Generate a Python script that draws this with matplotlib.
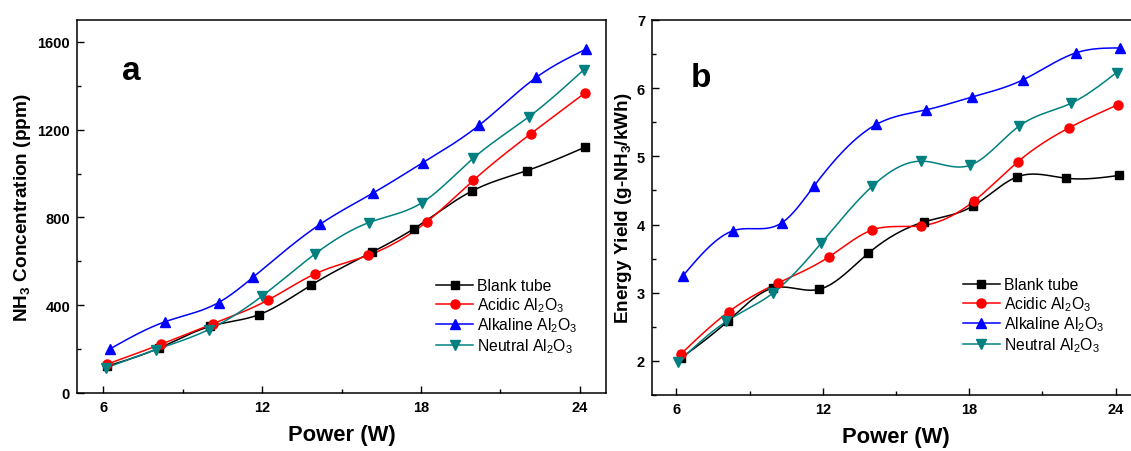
import numpy as np
import matplotlib
matplotlib.use("Agg")
import matplotlib.pyplot as plt
from matplotlib.ticker import MultipleLocator

plt.rcParams['font.family'] = ['Liberation Sans', 'DejaVu Sans']
plt.rcParams['mathtext.fontset'] = 'custom'
plt.rcParams['mathtext.rm'] = 'Liberation Sans'
plt.rcParams['mathtext.bf'] = 'Liberation Sans:bold'
plt.rcParams['mathtext.it'] = 'Liberation Sans:italic'

series_names = ['Blank tube', r'Acidic Al$_2$O$_3$', r'Alkaline Al$_2$O$_3$', r'Neutral Al$_2$O$_3$']

# ---- Panel a: NH3 concentration (ppm) ----
power_a_blank = [6.13, 8.11, 10.04, 11.88, 13.84, 16.17, 17.74, 19.94, 22.0, 24.2]
nh3_blank = [122, 205, 304, 357, 491, 643, 749, 921, 1013, 1120]
power_a_acidic = [6.13, 8.17, 10.13, 12.24, 14.0, 16.02, 18.22, 19.99, 22.15, 24.2]
nh3_acidic = [131, 222, 315, 425, 543, 628, 780, 970, 1181, 1367]
power_a_alkaline = [6.26, 8.31, 10.35, 11.65, 14.2, 16.2, 18.08, 20.2, 22.37, 24.26]
nh3_alkaline = [202, 324, 412, 527, 770, 912, 1050, 1220, 1439, 1568]
power_a_neutral = [6.09, 7.99, 9.98, 11.99, 14.0, 16.04, 18.05, 19.99, 22.1, 24.15]
nh3_neutral = [114, 198, 289, 441, 634, 777, 868, 1071, 1260, 1472]

# ---- Panel b: energy yield (g-NH3/kWh) ----
power_b_blank = [6.18, 8.1, 9.97, 11.85, 13.87, 16.16, 18.15, 19.97, 21.96, 24.13]
ey_blank = [2.04, 2.58, 3.07, 3.05, 3.58, 4.04, 4.27, 4.70, 4.68, 4.72]
power_b_acidic = [6.18, 8.14, 10.15, 12.27, 14.02, 16.01, 18.18, 19.99, 22.1, 24.11]
ey_acidic = [2.10, 2.72, 3.14, 3.53, 3.92, 3.98, 4.34, 4.92, 5.42, 5.76]
power_b_alkaline = [6.27, 8.33, 10.34, 11.65, 14.2, 16.21, 18.11, 20.19, 22.39, 24.16]
ey_alkaline = [3.25, 3.91, 4.03, 4.57, 5.47, 5.68, 5.87, 6.12, 6.52, 6.59]
power_b_neutral = [6.06, 8.05, 9.94, 11.94, 14.02, 16.03, 18.04, 20.03, 22.18, 24.04]
ey_neutral = [1.98, 2.58, 2.99, 3.73, 4.56, 4.93, 4.87, 5.44, 5.78, 6.23]

colors = ['#000000', '#FF0000', '#0000FF', '#008080']
markers = ['s', 'o', '^', 'v']
msizes = [6.0, 6.5, 7.5, 7.5]


def natural_spline(x, y, n=400):
    x = np.asarray(x, float)
    y = np.asarray(y, float)
    m = len(x)
    h = np.diff(x)
    A = np.zeros((m, m))
    r = np.zeros(m)
    A[0, 0] = 1
    A[-1, -1] = 1
    for i in range(1, m - 1):
        A[i, i - 1] = h[i - 1]
        A[i, i] = 2 * (h[i - 1] + h[i])
        A[i, i + 1] = h[i]
        r[i] = 6 * ((y[i + 1] - y[i]) / h[i] - (y[i] - y[i - 1]) / h[i - 1])
    M = np.linalg.solve(A, r)
    xs = np.linspace(x[0], x[-1], n)
    idx = np.clip(np.searchsorted(x, xs) - 1, 0, m - 2)
    x0, x1 = x[idx], x[idx + 1]
    hh = x1 - x0
    a = (x1 - xs) / hh
    b = (xs - x0) / hh
    ys = (a * y[idx] + b * y[idx + 1]
          + ((a ** 3 - a) * M[idx] + (b ** 3 - b) * M[idx + 1]) * hh ** 2 / 6)
    return xs, ys


W, H = 1131, 452
fig = plt.figure(figsize=(W / 100, H / 100), dpi=100)


def px_axes(l, t, r, b):
    return fig.add_axes([l / W, 1 - b / H, (r - l) / W, (b - t) / H])


ax_a = px_axes(77, 21, 606, 394)
ax_b = px_axes(652, 21, 1140, 396)

data_a = [(power_a_blank, nh3_blank), (power_a_acidic, nh3_acidic),
          (power_a_alkaline, nh3_alkaline), (power_a_neutral, nh3_neutral)]
data_b = [(power_b_blank, ey_blank), (power_b_acidic, ey_acidic),
          (power_b_alkaline, ey_alkaline), (power_b_neutral, ey_neutral)]

for ax, data in ((ax_a, data_a), (ax_b, data_b)):
    for (xv, yv), c, mk, ms, name in zip(data, colors, markers, msizes, series_names):
        xs, ys = natural_spline(xv, yv)
        ax.plot(xs, ys, color=c, lw=1.1, zorder=2)
        ax.plot(xv, yv, ls='none', marker=mk, ms=ms, color=c, zorder=3)
        ax.plot([], [], color=c, lw=1.1, marker=mk, ms=ms, label=name)

ax_a.set_xlim(5, 25)
ax_a.set_ylim(0, 1700)
ax_a.yaxis.set_major_locator(MultipleLocator(400))
ax_a.yaxis.set_minor_locator(MultipleLocator(200))
ax_b.set_xlim(5, 25)
ax_b.set_ylim(1.5, 7)
ax_b.yaxis.set_major_locator(MultipleLocator(1))
ax_b.yaxis.set_minor_locator(MultipleLocator(0.5))

for ax in (ax_a, ax_b):
    ax.xaxis.set_major_locator(MultipleLocator(6))
    ax.xaxis.set_minor_locator(MultipleLocator(3))
    ax.tick_params(which='both', direction='in', top=False, right=False, width=1.0)
    ax.tick_params(which='major', length=4.8, labelsize=10.5, pad=5)
    ax.tick_params(which='minor', length=2.6)
    for lab in ax.get_xticklabels() + ax.get_yticklabels():
        lab.set_fontweight('bold')
    for sp in ax.spines.values():
        sp.set_linewidth(1.1)
    ax.set_xlabel('Power (W)', fontsize=15.8, fontweight='bold', labelpad=7)

ax_a.set_ylabel(r'NH$_\mathbf{3}$ Concentration (ppm)', fontsize=13.7, fontweight='bold', labelpad=3)
ax_b.set_ylabel(r'Energy Yield (g-NH$_\mathbf{3}$/kWh)', fontsize=13.6, fontweight='bold', labelpad=2)

legend_kw = dict(loc='center left', frameon=False, fontsize=11.3, handlelength=2.35,
                 handletextpad=0.25, labelspacing=0.12, borderpad=0, borderaxespad=0)
ax_a.legend(bbox_to_anchor=(0.679, 0.205), **legend_kw)
ax_b.legend(bbox_to_anchor=(0.637, 0.212), **legend_kw)

fig.text(122 / W, 1 - 80 / H, 'a', fontsize=24, fontweight='bold', va='baseline')
fig.text(691 / W, 1 - 87 / H, 'b', fontsize=24, fontweight='bold', va='baseline')

fig.savefig('out.png', dpi=100)
